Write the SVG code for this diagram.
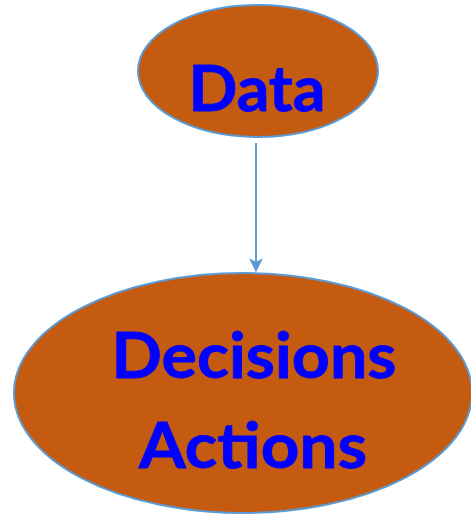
<svg xmlns="http://www.w3.org/2000/svg" width="471" height="515" viewBox="0 0 471 515">
<style>
.node{fill:#C55A11;stroke:#5B9BD5;stroke-width:2}
.lbl{font-family:Lato,"Open Sans","Liberation Sans",sans-serif;font-weight:bold;font-size:63px;fill:#0000FF;stroke:#0000FF;stroke-width:0.8;text-anchor:middle}
.edge{stroke:#5B9BD5;stroke-width:2;fill:none}
</style>
<defs>
<marker id="arr" viewBox="0 0 12 12" refX="11" refY="6" markerWidth="7" markerHeight="7" orient="auto" markerUnits="strokeWidth">
<path d="M0,0 L12,6 L0,12 L3,6 z" fill="#5B9BD5"/>
</marker>
</defs>
<rect width="471" height="515" fill="#FFFFFF"/>
<g id="connectors">
<line class="edge" x1="256" y1="143" x2="256" y2="271" marker-end="url(#arr)"/>
</g>
<g id="node-data">
<ellipse class="node" cx="258" cy="71" rx="120" ry="66"/>
<text class="lbl" x="257" y="111" textLength="137" lengthAdjust="spacingAndGlyphs">Data</text>
</g>
<g id="node-decisions">
<ellipse class="node" cx="243" cy="393" rx="229" ry="120"/>
<text class="lbl" x="254" y="378" textLength="285" lengthAdjust="spacingAndGlyphs">Decisions</text>
<text class="lbl" x="253" y="468" textLength="228" lengthAdjust="spacingAndGlyphs">Actions</text>
</g>
</svg>
